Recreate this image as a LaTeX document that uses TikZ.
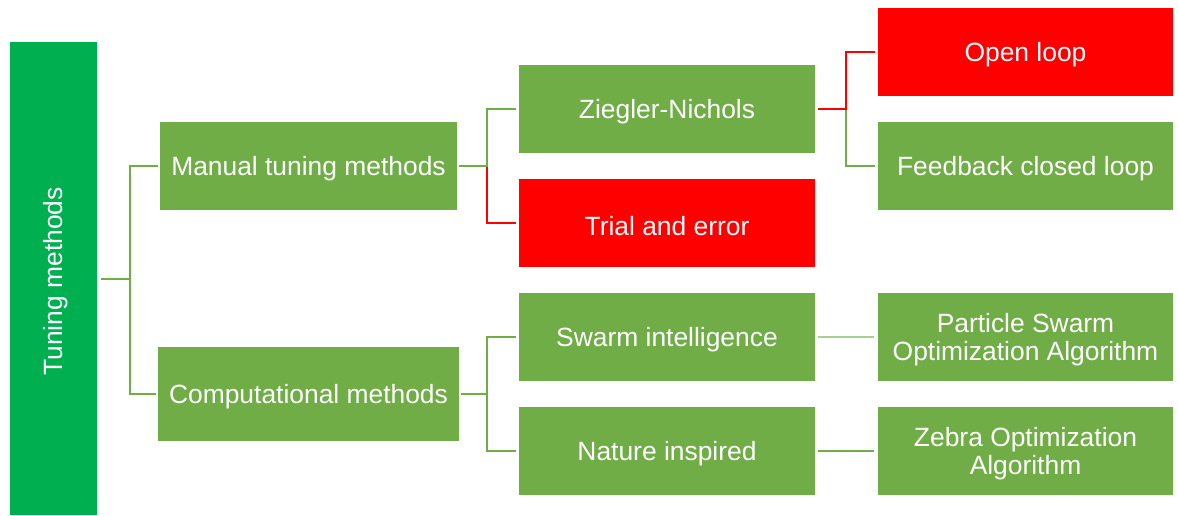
\documentclass[tikz,border=0pt]{standalone}
\usepackage{fontspec}
\setmainfont{Liberation Sans}
\definecolor{leaf}{HTML}{70AD47}
\definecolor{hot}{HTML}{FF0000}
\definecolor{rootgreen}{HTML}{00B050}
\definecolor{softlink}{HTML}{A9D18E}

\begin{document}
\begin{tikzpicture}[x=1pt,y=-1pt,
  boxfont/.style={font=\fontsize{26.4}{28}\selectfont, text=white, align=center},
  % text is centred on the cap height, a little below the geometric centre
  boxtext/.style={boxfont, yshift=-3pt, inner sep=0pt},
  box/.style={fill=leaf, minimum width=296pt, minimum height=88pt, inner sep=0pt},
  redbox/.style={box, fill=hot},
  link/.style={draw=leaf, line width=2pt},
  redlink/.style={draw=hot, line width=2pt},
  softline/.style={draw=softlink, line width=1.2pt}]
\useasboundingbox (0,0) rectangle (1179,515);

% root column
\node[fill=rootgreen, minimum width=87pt, minimum height=473pt, inner sep=0pt]
  (root) at (53.5,278.5) {};
\node[boxfont, rotate=90, inner sep=0pt] (roottext) at ([xshift=2.5pt,yshift=-3pt]root.center) {Tuning methods};

% first level
\node[box, minimum width=297pt, label={[boxtext]center:Manual tuning methods}] (manual) at (308.5,166) {};
\node[box, minimum width=301pt, minimum height=94pt, label={[boxtext]center:Computational methods}] (comp) at (308.5,394) {};

% second level
\node[box,    label={[boxtext]center:Ziegler-Nichols}]    (zn)     at (667,109) {};
\node[redbox, label={[boxtext]center:Trial and error}]    (trial)  at (667,223) {};
\node[box,    label={[boxtext]center:Swarm intelligence}] (swarm)  at (667,337) {};
\node[box,    label={[boxtext]center:Nature inspired}]    (nature) at (667,451) {};

% third level
\node[redbox, minimum width=295pt, label={[boxtext]center:Open loop}]            (open)     at (1025.5,52)  {};
\node[box, minimum width=295pt, label={[boxtext]center:Feedback closed loop}]    (feedback) at (1025.5,166) {};
\node[box, minimum width=295pt, label={[boxtext]center:Particle Swarm\\Optimization Algorithm}] (pso) at (1025.5,337) {};
\node[box, minimum width=295pt, label={[boxtext]center:Zebra Optimization\\Algorithm}]          (zebra) at (1025.5,451) {};

% root branches
\draw[link] ([xshift=4pt]root.east) -- ++(29,0) coordinate (j0) |- ([xshift=-2pt]manual.west);
\draw[link] (j0) |- ([xshift=-2pt]comp.west);

% manual tuning branches
\draw[redlink] ([xshift=2pt]manual.east) -- ++(28,0) coordinate (j1) |- ([xshift=-3pt]trial.west);
\draw[link] ([xshift=2pt]manual.east) -- (j1) |- ([xshift=-3pt]zn.west);

% computational branches
\draw[link] ([xshift=2pt]comp.east) -- ++(26,0) coordinate (j2) |- ([xshift=-3pt]swarm.west);
\draw[link] (j2) |- ([xshift=-3pt]nature.west);

% Ziegler-Nichols branches
\draw[link] ([xshift=3pt]zn.east) -- ++(28,0) coordinate (j3) |- ([xshift=-3pt]feedback.west);
\draw[redlink] ([xshift=3pt]zn.east) -- (j3) |- ([xshift=-3pt]open.west);

% single links
\draw[softline] ([xshift=3pt]swarm.east) -- ([xshift=-4pt]pso.west);
\draw[link] ([xshift=3pt]nature.east) -- ([xshift=-4pt]zebra.west);
\end{tikzpicture}
\end{document}
